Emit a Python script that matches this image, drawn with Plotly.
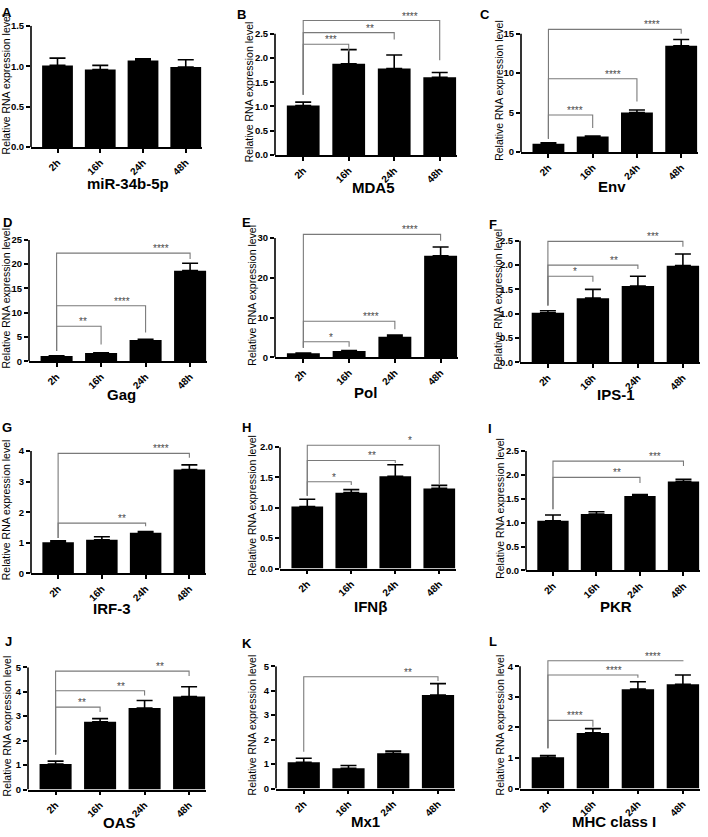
import plotly.graph_objects as go

W, H = 708, 837
times = ["2h", "16h", "24h", "48h"]

letters = ["A", "B", "C", "D", "E", "F", "G", "H", "I", "J", "K", "L"]
genes = ["miR-34b-5p", "MDA5", "Env", "Gag", "Pol", "IPS-1",
         "IRF-3", "IFNβ", "PKR", "OAS", "Mx1", "MHC class I"]

# ---- bar means and upper error (SEM) per panel ----
mean_A = [1.01, 0.96, 1.07, 0.99]; err_A = [0.09, 0.05, 0.02, 0.09]
mean_B = [1.02, 1.88, 1.78, 1.60]; err_B = [0.07, 0.29, 0.28, 0.10]
mean_C = [1.04, 1.96, 5.00, 13.46]; err_C = [0.13, 0.08, 0.33, 0.79]
mean_D = [1.09, 1.70, 4.36, 18.66]; err_D = [0.05, 0.05, 0.14, 1.54]
mean_E = [1.00, 1.58, 5.15, 25.50]; err_E = [0.05, 0.15, 0.42, 2.20]
mean_F = [1.02, 1.32, 1.57, 1.99]; err_F = [0.04, 0.18, 0.20, 0.24]
mean_G = [1.02, 1.10, 1.33, 3.40]; err_G = [0.05, 0.10, 0.04, 0.15]
mean_H = [1.02, 1.25, 1.52, 1.32]; err_H = [0.12, 0.05, 0.19, 0.05]
mean_I = [1.04, 1.18, 1.56, 1.865]; err_I = [0.12, 0.05, 0.03, 0.045]
mean_J = [1.04, 2.77, 3.33, 3.80]; err_J = [0.12, 0.13, 0.31, 0.40]
mean_K = [1.075, 0.83, 1.44, 3.82]; err_K = [0.165, 0.11, 0.09, 0.47]
mean_L = [1.02, 1.82, 3.25, 3.41]; err_L = [0.06, 0.14, 0.24, 0.30]

# ---- y tick values per panel ----
yt_A = [0, 0.5, 1.0, 1.5]
yt_B = [0, 0.5, 1.0, 1.5, 2.0, 2.5]
yt_C = [0, 5, 10, 15]
yt_D = [0, 5, 10, 15, 20, 25]
yt_E = [0, 10, 20, 30]
yt_F = [0, 0.5, 1.0, 1.5, 2.0, 2.5]
yt_G = [0, 1, 2, 3, 4]
yt_H = [0, 0.5, 1.0, 1.5, 2.0]
yt_I = [0, 0.5, 1.0, 1.5, 2.0, 2.5]
yt_J = [0, 1, 2, 3, 4, 5]
yt_K = [0, 1, 2, 3, 4, 5]
yt_L = [0, 1, 2, 3, 4]

# ---- significance brackets (vs 2h): target index, bar height, right drop, left base, stars ----
bt_A = []; bh_A = []; bd_A = []; bb_A = None; bs_A = []
bt_B = [1, 2, 3]; bh_B = [2.28, 2.52, 2.77]; bd_B = [2.13, 2.38, 1.95]; bb_B = 1.24; bs_B = ["***", "**", "****"]
bt_C = [1, 2, 3]; bh_C = [4.7, 9.29, 15.54]; bd_C = [3.04, 6.4, 15.0]; bb_C = 1.67; bs_C = ["****", "****", "****"]
bt_D = [1, 2, 3]; bh_D = [7.22, 11.44, 22.28]; bd_D = [3.47, 5.93, 21.05]; bb_D = 2.1; bs_D = ["**", "****", "****"]
bt_E = [1, 2, 3]; bh_E = [3.9, 9.06, 30.9]; bd_E = [2.66, 7.07, 29.26]; bb_E = 2.41; bs_E = ["*", "****", "****"]
bt_F = [1, 2, 3]; bh_F = [1.77, 2.0, 2.49]; bd_F = [1.66, 1.92, 2.38]; bb_F = 1.17; bs_F = ["*", "**", "***"]
bt_G = [2, 3]; bh_G = [1.645, 3.925]; bd_G = [1.54, 3.78]; bb_G = 1.16; bs_G = ["**", "****"]
bt_H = [1, 2, 3]; bh_H = [1.43, 1.78, 2.03]; bd_H = [1.375, 1.74, 1.39]; bb_H = 1.2; bs_H = ["*", "**", "*"]
bt_I = [2, 3]; bh_I = [1.95, 2.29]; bd_I = [1.83, 2.19]; bb_I = 1.28; bs_I = ["**", "***"]
bt_J = [1, 2, 3]; bh_J = [3.37, 4.04, 4.84]; bd_J = [3.17, 3.84, 4.64]; bb_J = 1.43; bs_J = ["**", "**", "**"]
bt_K = [3]; bh_K = [4.57]; bd_K = [4.40]; bb_K = 1.5; bs_K = ["**"]
bt_L = [1, 2, 3]; bh_L = [2.23, 3.71, 4.18]; bd_L = [2.02, 3.62, 4.16]; bb_L = 1.32; bs_L = ["****", "****", "****"]

panels = [
    (mean_A, err_A, yt_A, bt_A, bh_A, bd_A, bb_A, bs_A),
    (mean_B, err_B, yt_B, bt_B, bh_B, bd_B, bb_B, bs_B),
    (mean_C, err_C, yt_C, bt_C, bh_C, bd_C, bb_C, bs_C),
    (mean_D, err_D, yt_D, bt_D, bh_D, bd_D, bb_D, bs_D),
    (mean_E, err_E, yt_E, bt_E, bh_E, bd_E, bb_E, bs_E),
    (mean_F, err_F, yt_F, bt_F, bh_F, bd_F, bb_F, bs_F),
    (mean_G, err_G, yt_G, bt_G, bh_G, bd_G, bb_G, bs_G),
    (mean_H, err_H, yt_H, bt_H, bh_H, bd_H, bb_H, bs_H),
    (mean_I, err_I, yt_I, bt_I, bh_I, bd_I, bb_I, bs_I),
    (mean_J, err_J, yt_J, bt_J, bh_J, bd_J, bb_J, bs_J),
    (mean_K, err_K, yt_K, bt_K, bh_K, bd_K, bb_K, bs_K),
    (mean_L, err_L, yt_L, bt_L, bh_L, bd_L, bb_L, bs_L),
]

# ---- layout geometry (pixels): x-left, x-right, y of value 0, y of top tick ----
geom = [
    (31, 202, 143, 20), (275, 457, 151, 28), (521, 698, 148, 28),
    (29, 207, 360, 237), (275, 458, 356, 235), (520, 700, 361, 238),
    (31, 206, 575, 451), (280, 456, 570, 447), (526, 700, 572, 451),
    (28, 206, 794, 670), (276, 455, 793, 669), (520, 700, 793, 669),
]
ytitle_x = [6, 249, 499, 6, 252, 498, 6, 252, 500, 7, 252, 500]
gene_xy = [(128, 180), (373, 184), (612, 183), (121, 394), (366, 392), (616, 394),
           (112, 611), (370, 608), (616, 608), (119, 827), (366, 826), (614, 826)]
letter_xy = [(7, 7), (241, 9), (485, 9), (7, 219), (247, 219), (493, 221),
             (7, 427), (247, 427), (490, 428), (8, 644), (247, 646), (493, 644)]

FONT = "Liberation Sans, Arial, sans-serif"
BR_COLOR = "#7a7a7a"
XR = [-0.62, 3.38]

fig = go.Figure()
shapes = []
annotations = []
layout_axes = {}

for i, (means, errs, yt, bt, bh, bd, bb, bs) in enumerate(panels):
    n = i + 1
    xa = "x" if n == 1 else f"x{n}"
    ya = "y" if n == 1 else f"y{n}"
    x0p, x1p, y0p, ytp = geom[i]
    tmax = yt[-1]
    ppu = (y0p - ytp) / tmax
    top = max(tmax, max(bh) * 1.03 if bh else tmax)
    dom_y = [1 - y0p / H, 1 - (y0p - top * ppu) / H]
    dom_x = [x0p / W, x1p / W]

    fig.add_trace(go.Bar(
        x=list(range(len(times))), y=means, width=0.72,
        marker=dict(color="black", line=dict(width=0)),
        error_y=dict(type="data", symmetric=False, array=errs,
                     arrayminus=[0] * len(errs), color="black",
                     thickness=1.6, width=8),
        xaxis=xa, yaxis=ya, showlegend=False, hoverinfo="skip"))

    for t, h, d, s in zip(bt, bh, bd, bs):
        fig.add_trace(go.Scatter(
            x=[0, 0, t, t], y=[bb, h, h, d], mode="lines",
            line=dict(color=BR_COLOR, width=1.1),
            xaxis=xa, yaxis=ya, showlegend=False, hoverinfo="skip"))
        annotations.append(dict(
            x=0.87 * t - 0.27, y=h, xref=xa, yref=ya, text=s, showarrow=False,
            yanchor="bottom", yshift=-3,
            font=dict(family=FONT, size=10, color="#4a4a4a")))

    decimals = any(abs(v - round(v)) > 1e-9 for v in yt)
    ttext = [f"{v:.1f}" if decimals else f"{int(v)}" for v in yt]

    layout_axes["xaxis" if n == 1 else f"xaxis{n}"] = dict(
        domain=dom_x, anchor=ya, range=XR, tickmode="array",
        tickvals=list(range(len(times))), ticktext=times, tickangle=-45,
        showline=True, linecolor="black", linewidth=1.6, ticks="outside",
        ticklen=4, tickwidth=1.5, tickcolor="black", showgrid=False, zeroline=False,
        tickfont=dict(family=FONT, size=10, color="black", weight="bold"))
    layout_axes["yaxis" if n == 1 else f"yaxis{n}"] = dict(
        domain=dom_y, anchor=xa, range=[0, top], tickmode="array",
        tickvals=yt, ticktext=ttext, showline=False, ticks="outside",
        ticklen=4, tickwidth=1.5, tickcolor="black", showgrid=False, zeroline=False,
        tickfont=dict(family=FONT, size=9.5, color="black", weight="bold"))

    # y axis line from 0 to the top tick only
    shapes.append(dict(type="line", xref="paper", yref=ya,
                       x0=dom_x[0], x1=dom_x[0], y0=0, y1=tmax,
                       line=dict(color="black", width=1.6)))

    annotations.append(dict(
        x=ytitle_x[i] / W, y=1 - ((y0p + ytp) / 2 - 2) / H, xref="paper", yref="paper",
        text="Relative RNA expression level", textangle=-90, showarrow=False,
        xanchor="center", yanchor="middle",
        font=dict(family=FONT, size=10.5, color="black")))
    gx, gy = gene_xy[i]
    annotations.append(dict(
        x=gx / W, y=1 - gy / H, xref="paper", yref="paper", text=genes[i],
        showarrow=False, xanchor="center", yanchor="middle",
        font=dict(family=FONT, size=15, color="black", weight="bold")))
    lx, ly = letter_xy[i]
    annotations.append(dict(
        x=lx / W, y=1 - ly / H, xref="paper", yref="paper", text=letters[i],
        showarrow=False, xanchor="center", yanchor="middle",
        font=dict(family=FONT, size=13, color="black", weight="bold")))

fig.update_layout(
    width=W, height=H, margin=dict(l=0, r=0, t=0, b=0),
    paper_bgcolor="white", plot_bgcolor="white",
    shapes=shapes, annotations=annotations, **layout_axes)

fig.write_html("out.html", config={"displayModeBar": False},
               post_script="document.body.style.margin='0';document.body.style.overflow='hidden';")
